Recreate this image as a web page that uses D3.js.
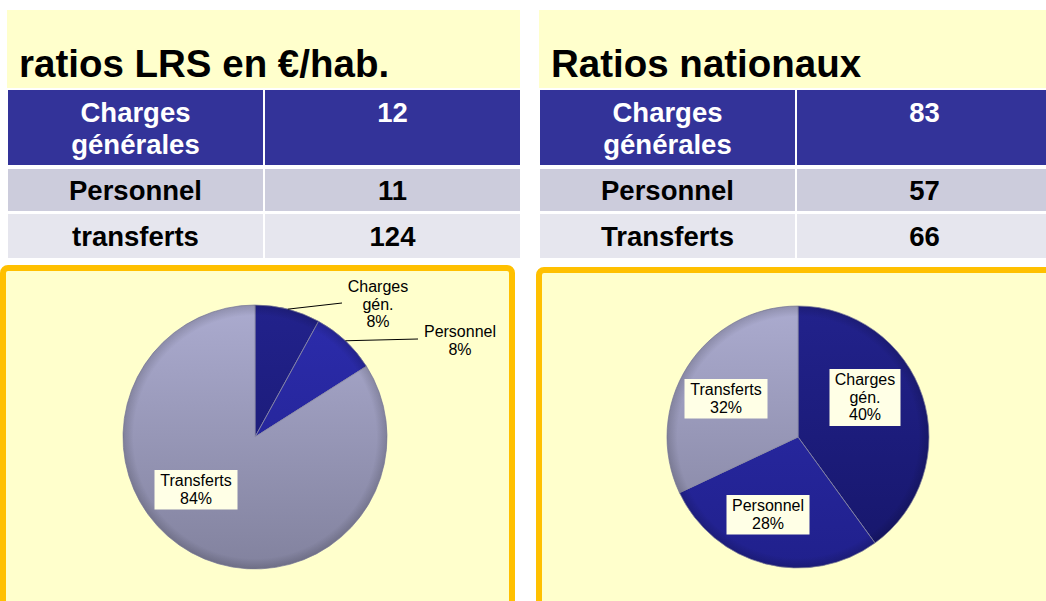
<!DOCTYPE html>
<html><head><meta charset="utf-8">
<script src="https://cdn.jsdelivr.net/npm/d3@7"></script>
<style>
html,body{margin:0;padding:0;background:#fff;}
svg{display:block;font-family:"Liberation Sans",Arial,sans-serif;}
</style></head>
<body><svg id="c" width="1046" height="601"></svg>
<script>
// ---- data ----
const titles = ["ratios LRS en €/hab.", "Ratios nationaux"];
const tableLabelsLeft = [["Charges","générales"],["Personnel"],["transferts"]];
const tableLabelsRight = [["Charges","générales"],["Personnel"],["Transferts"]];
const valuesLRS = [12, 11, 124];
const valuesNational = [83, 57, 66];
const sliceLabels = [["Charges","gén."],["Personnel"],["Transferts"]];
const sharesLRS = [8, 8, 84];        // % shown on the left pie
const sharesNational = [40, 28, 32]; // % shown on the right pie

const svg = d3.select("#c");
const defs = svg.append("defs");

const rowColors = ["#333399","#ccccdc","#e6e6ee"];
const rowText = ["#fff","#000","#000"];
const sliceColors = [["#22228c","#16166a"],["#2c2cac","#20208c"],["#ababcf","#82829e"]];

function panel(px, w, title, labels, values){
  const g = svg.append("g");
  g.append("rect").attr("x",px).attr("y",10).attr("width",w).attr("height",78).attr("fill","#ffffcc");
  g.append("text").attr("x",px+12).attr("y",77).attr("font-size",38.5).attr("font-weight","bold").text(title);
  const colSplit = 255;
  const rows = [{y:90,h:75,b:122},{y:169,h:42,b:200},{y:214,h:44,b:246}];
  rows.forEach((r,i)=>{
    g.append("rect").attr("x",px+1).attr("y",r.y).attr("width",colSplit).attr("height",r.h).attr("fill",rowColors[i]);
    g.append("rect").attr("x",px+colSplit+3).attr("y",r.y).attr("width",w-colSplit-3).attr("height",r.h).attr("fill",rowColors[i]);
    labels[i].forEach((t,j)=>{
      g.append("text").attr("x",px+1+colSplit/2).attr("y",r.b+j*32)
        .attr("text-anchor","middle").attr("font-size",27.5).attr("font-weight","bold").attr("fill",rowText[i]).text(t);
    });
    g.append("text").attr("x",px+colSplit+3+(513-colSplit-3)/2).attr("y",r.b)
      .attr("text-anchor","middle").attr("font-size",27.5).attr("font-weight","bold").attr("fill",rowText[i]).text(values[i]);
  });
}
panel(7, 513, titles[0], tableLabelsLeft, valuesLRS);
panel(539, 507, titles[1], tableLabelsRight, valuesNational);

// lower boxes
svg.append("rect").attr("x",3).attr("y",268).attr("width",509).attr("height",345).attr("rx",5)
  .attr("fill","#ffffcc").attr("stroke","#ffc000").attr("stroke-width",6);
svg.append("rect").attr("x",539).attr("y",270).attr("width",520).attr("height",345).attr("rx",5)
  .attr("fill","#ffffcc").attr("stroke","#ffc000").attr("stroke-width",6);

// pies
const pie = d3.pie().sort(null).value(d=>d);
function drawPie(cx, cy, r, values, id, labelCfg){
  const g = svg.append("g").attr("transform",`translate(${cx},${cy})`);
  const arcs = pie(values);
  const total = d3.sum(values);
  const arc = d3.arc().innerRadius(0).outerRadius(r);
  sliceColors.forEach((c,i)=>{
    const gr = defs.append("linearGradient").attr("id",`g${id}${i}`)
      .attr("gradientUnits","userSpaceOnUse").attr("x1",0).attr("y1",-r).attr("x2",0).attr("y2",r);
    gr.append("stop").attr("offset","0").attr("stop-color",c[0]);
    gr.append("stop").attr("offset","1").attr("stop-color",c[1]);
  });
  const rg = defs.append("radialGradient").attr("id",`rim${id}`).attr("gradientUnits","userSpaceOnUse")
    .attr("cx",0).attr("cy",0).attr("r",r);
  rg.append("stop").attr("offset","0.92").attr("stop-color","#000").attr("stop-opacity",0);
  rg.append("stop").attr("offset","1").attr("stop-color","#000").attr("stop-opacity",0.16);
  g.selectAll("path.s").data(arcs).join("path").attr("class","s")
    .attr("d",arc).attr("fill",(d,i)=>`url(#g${id}${i})`)
    .attr("stroke","#8a8aa6").attr("stroke-width",0.8);
  g.selectAll("path.rim").data(arcs).join("path").attr("class","rim")
    .attr("d",arc).attr("fill",`url(#rim${id})`);
  const fmt = v=>Math.round(v/total*100)+"%";
  arcs.forEach((a,i)=>{
    const cfg = labelCfg[i];
    const mid = (a.startAngle+a.endAngle)/2;
    const lines = sliceLabels[i].concat([fmt(a.value)]);
    const [lx, lb] = cfg.pos;
    const lh = 17.5;
    if(cfg.leader){
      const ex = Math.sin(mid)*r, ey = -Math.cos(mid)*r;
      g.append("line").attr("x1",ex).attr("y1",ey).attr("x2",cfg.leader[0]).attr("y2",cfg.leader[1])
        .attr("stroke","#000").attr("stroke-width",1);
    }
    if(cfg.box){
      const top = lb-16, bot = lb+(lines.length-1)*lh+6;
      g.append("rect").attr("x",lx-cfg.box/2).attr("y",top).attr("width",cfg.box).attr("height",bot-top)
        .attr("fill","#ffffe6");
    }
    lines.forEach((t,j)=>{
      g.append("text").attr("x",lx).attr("y",lb+j*lh).attr("text-anchor","middle")
        .attr("font-size",16).attr("fill","#000").text(t);
    });
  });
}
drawPie(255, 437, 132, sharesLRS, "L", [
  {pos:[123,-145], leader:[87,-134]},
  {pos:[205,-100], leader:[163,-98]},
  {pos:[-59,49], box:83}
]);
drawPie(798, 437, 131, sharesNational, "R", [
  {pos:[67,-52], box:71},
  {pos:[-30,74], box:83},
  {pos:[-72,-42], box:83}
]);
</script></body></html>
